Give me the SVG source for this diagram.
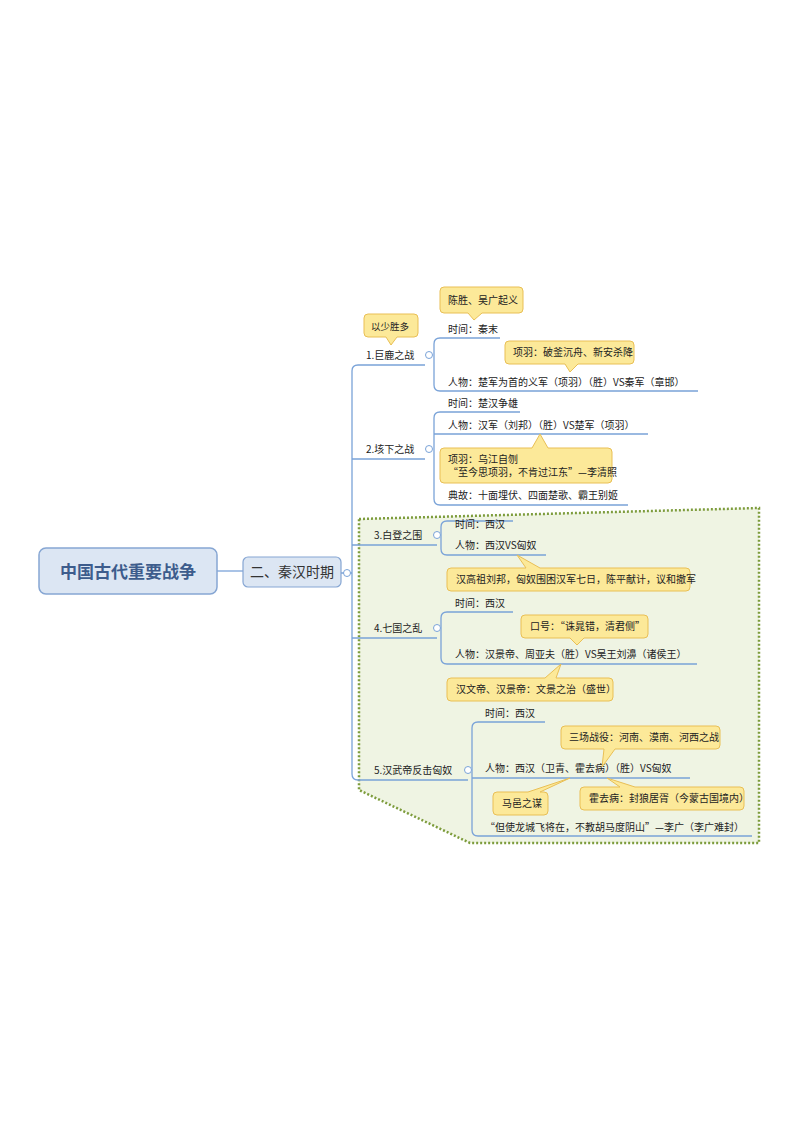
<svg xmlns="http://www.w3.org/2000/svg" width="800" height="1132" viewBox="0 0 800 1132">
<style>
text{font-family:"Noto Sans CJK SC","Liberation Sans",sans-serif;font-size:10px;fill:#222}
.ln{fill:none;stroke:#7aa3d8;stroke-width:1.3}
.cb{fill:#fce999;stroke:#e9bf55;stroke-width:1}
.cc{fill:#fff;stroke:#7aa3d8;stroke-width:1}
</style>
<rect width="800" height="1132" fill="#fff"/>
<path d="M359,519 L759,508 L759,843 L470,843 L359,790 Z" fill="#eff4e3" stroke="#7d9c3c" stroke-width="2.5" stroke-dasharray="2,2"/>
<g id="connectors">
<path class="ln" d="M217,571 H243"/>
<path class="ln" d="M425,365 H358 Q352,365 352,371 V774 Q352,780 358,780 H468"/>
<path class="ln" d="M352,459 H425 M352,545 H437 M352,638 H437 M341,573 H352"/>
<path class="ln" d="M500,338 H440 Q434,338 434,344 V385 Q434,391 440,391 H698"/>
<path class="ln" d="M520,412 H440 Q434,412 434,418 V499 Q434,505 440,505 H628 M434,434 H648"/>
<path class="ln" d="M513,521 H447 Q441,521 441,527 V549 Q441,555 447,555 H546"/>
<path class="ln" d="M513,612 H447 Q441,612 441,618 V658 Q441,664 447,664 H697"/>
<path class="ln" d="M545,722 H478 Q472,722 472,728 V830 Q472,836 478,836 H752 M472,778 H690"/>
</g>
<g id="root"><rect x="39" y="548" width="178" height="46" rx="7" fill="#dce6f3" stroke="#86a6d3" stroke-width="1.5"/><text x="128" y="578" text-anchor="middle" style="font-size:17px;font-weight:bold;fill:#3d5c8c">中国古代重要战争</text></g>
<g id="sub"><rect x="243" y="557" width="98" height="30" rx="5" fill="#dce6f3" stroke="#86a6d3" stroke-width="1.2"/><text x="292" y="577" text-anchor="middle" style="font-size:14px;fill:#333">二、秦汉时期</text><circle class="cc" cx="347" cy="573" r="3.5"/></g>
<g id="b1"><text x="366" y="359">1.巨鹿之战</text><circle class="cc" cx="429" cy="355" r="3.5"/>
<text x="448" y="333">时间：秦末</text><text x="448" y="386">人物：楚军为首的义军（项羽）（胜）VS秦军（章邯）</text></g>
<g id="b2"><text x="366" y="453">2.垓下之战</text><circle class="cc" cx="429" cy="449" r="3.5"/>
<text x="448" y="407">时间：楚汉争雄</text><text x="448" y="429">人物：汉军（刘邦）（胜）VS楚军（项羽）</text><text x="448" y="499">典故：十面埋伏、四面楚歌、霸王别姬</text></g>
<g id="b3"><text x="374" y="539">3.白登之围</text><circle class="cc" cx="437" cy="535" r="3.5"/>
<text x="455" y="528">时间：西汉</text><text x="455" y="549">人物：西汉VS匈奴</text></g>
<g id="b4"><text x="374" y="632">4.七国之乱</text><circle class="cc" cx="437" cy="628" r="3.5"/>
<text x="455" y="607">时间：西汉</text><text x="455" y="658">人物：汉景帝、周亚夫（胜）VS吴王刘濞（诸侯王）</text></g>
<g id="b5"><text x="374" y="774">5.汉武帝反击匈奴</text><circle class="cc" cx="468" cy="770" r="3.5"/>
<text x="485" y="717">时间：西汉</text><text x="485" y="772">人物：西汉（卫青、霍去病）（胜）VS匈奴</text><text x="485" y="831">“但使龙城飞将在，不教胡马度阴山”—李广（李广难封）</text></g>
<g id="callouts">
<path class="cb" d="M444,287 H519 Q523,287 523,291 V309 Q523,313 519,313 H482 L474,320 L468,313 H444 Q440,313 440,309 V291 Q440,287 444,287 Z"/><text x="448" y="304">陈胜、吴广起义</text>
<path class="cb" d="M368,314 H414 Q418,314 418,318 V333 Q418,337 414,337 H397 L391,345 L386,337 H368 Q364,337 364,333 V318 Q364,314 368,314 Z"/><text x="371" y="330" style="font-size:9.5px">以少胜多</text>
<path class="cb" d="M509,341 H630 Q634,341 634,345 V360 Q634,364 630,364 H578 L570,372 L565,364 H509 Q505,364 505,360 V345 Q505,341 509,341 Z"/><text x="513" y="356">项羽：破釜沉舟、新安杀降</text>
<path class="cb" d="M444,448 H532 L540,434 L548,448 H608 Q612,448 612,452 V479 Q612,483 608,483 H444 Q440,483 440,479 V452 Q440,448 444,448 Z"/><text x="448" y="463">项羽：乌江自刎</text><text x="448" y="476">“至今思项羽，不肯过江东”—李清照</text>
<path class="cb" d="M451,568 H526 L517,555 L540,568 H686 Q690,568 690,572 V587 Q690,591 686,591 H451 Q447,591 447,587 V572 Q447,568 451,568 Z"/><text x="456" y="583">汉高祖刘邦，匈奴围困汉军七日，陈平献计，议和撤军</text>
<path class="cb" d="M525,615 H644 Q648,615 648,619 V634 Q648,638 644,638 H584 L577,645 L570,638 H525 Q521,638 521,634 V619 Q521,615 525,615 Z"/><text x="530" y="630">口号：“诛晁错，清君侧”</text>
<path class="cb" d="M451,678 H545 L561,664 L556,678 H609 Q613,678 613,682 V697 Q613,701 609,701 H451 Q447,701 447,697 V682 Q447,678 451,678 Z"/><text x="456" y="693">汉文帝、汉景帝：文景之治（盛世）</text>
<path class="cb" d="M565,726 H716 Q720,726 720,730 V745 Q720,749 716,749 H615 L602,767 L604,749 H565 Q561,749 561,745 V730 Q561,726 565,726 Z"/><text x="569" y="741">三场战役：河南、漠南、河西之战</text>
<path class="cb" d="M497,792 H528 L570,778 L540,792 H544 Q548,792 548,796 V811 Q548,815 544,815 H497 Q493,815 493,811 V796 Q493,792 497,792 Z"/><text x="502" y="807">马邑之谋</text>
<path class="cb" d="M584,787 H620 L607,778 L635,787 H740 Q744,787 744,791 V806 Q744,810 740,810 H584 Q580,810 580,806 V791 Q580,787 584,787 Z"/><text x="589" y="802">霍去病：封狼居胥（今蒙古国境内）</text>
</g>
</svg>
